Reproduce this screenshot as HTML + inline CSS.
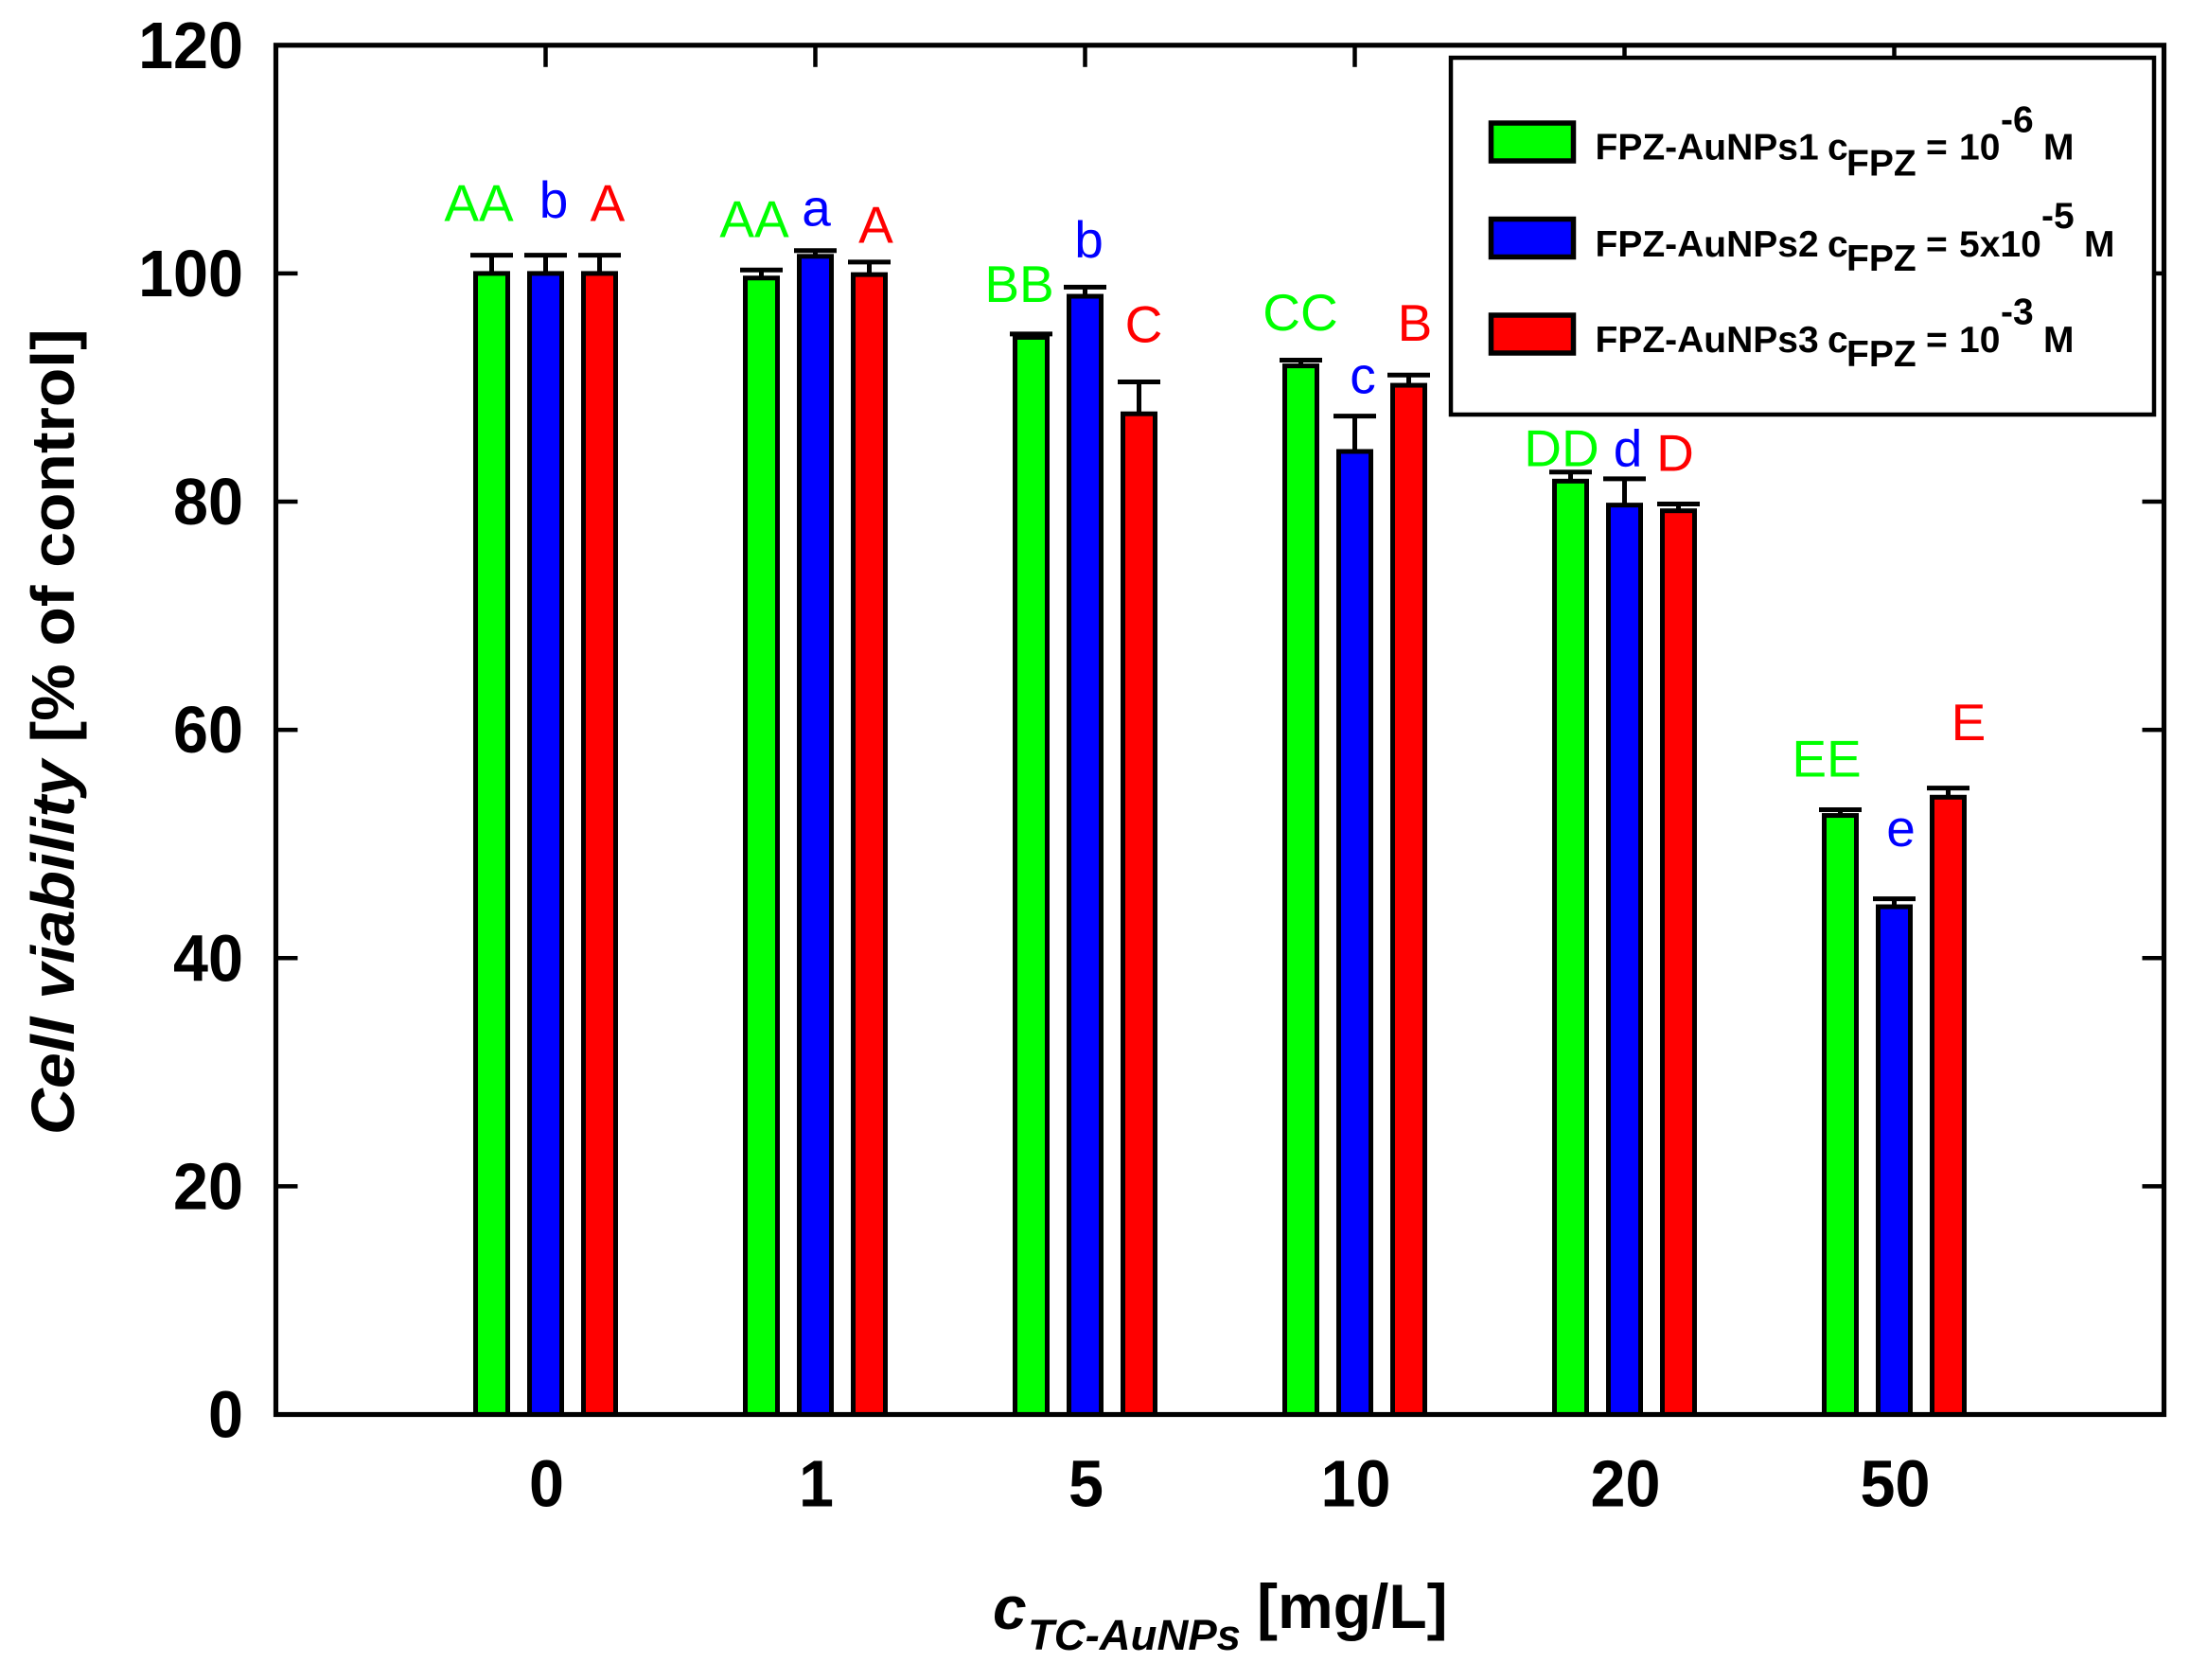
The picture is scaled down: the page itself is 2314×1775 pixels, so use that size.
<!DOCTYPE html>
<html lang="en">
<head>
<meta charset="utf-8">
<title>Cell viability bar chart</title>
<style>
html,body{margin:0;padding:0;background:#fff;}
svg{display:block;}
text{font-family:"Liberation Sans",Arial,sans-serif;}
.leg{font-size:39px;font-weight:700;fill:#000;}
.legs{font-size:39px;font-weight:700;fill:#000;}
</style>
</head>
<body>
<svg id="chart" xmlns="http://www.w3.org/2000/svg" width="2314" height="1775" viewBox="0 0 2314 1775">
  <rect x="0" y="0" width="2314" height="1775" fill="#fff"/>
  <g id="bars"></g>
  <g id="annotations"></g>
  <g id="axes"></g>

  <text transform="translate(78,1199) rotate(-90) scale(1.06,1)" font-size="64" font-weight="700" fill="#000"><tspan font-style="italic">Cell viability</tspan> [% of control]</text>

  <g font-weight="700" fill="#000">
    <text x="1049" y="1721" font-size="64" font-style="italic">c</text>
    <text x="1086" y="1743" font-size="45.5" font-style="italic">TC-AuNPs</text>
    <text x="1328" y="1720" font-size="66">[mg/L]</text>
  </g>

  <g>
    <rect x="1533" y="61" width="743" height="377" fill="#fff" stroke="#000" stroke-width="4.5"/>
    <g>
      <rect x="1575.5" y="130" width="87" height="40" fill="#00ff00" stroke="#000" stroke-width="5.5"/>
      <text class="leg" x="1685.5" y="168.5">FPZ-AuNPs1</text>
      <text class="leg" x="1931" y="168.5">c</text>
      <text class="legs" x="1951" y="185.5">FPZ</text>
      <text class="leg" x="2035" y="168.5">=</text>
      <text class="leg" x="2070" y="168.5">10</text>
      <text class="legs" x="2114" y="139.5">-6</text>
      <text class="leg" x="2159" y="168.5">M</text>
    </g>
    <g>
      <rect x="1575.5" y="231.5" width="87" height="40" fill="#0000ff" stroke="#000" stroke-width="5.5"/>
      <text class="leg" x="1685.5" y="271">FPZ-AuNPs2</text>
      <text class="leg" x="1931" y="271">c</text>
      <text class="legs" x="1951" y="286">FPZ</text>
      <text class="leg" x="2035" y="271">=</text>
      <text class="leg" x="2070" y="271">5x10</text>
      <text class="legs" x="2157" y="241">-5</text>
      <text class="leg" x="2202" y="271">M</text>
    </g>
    <g>
      <rect x="1575.5" y="333" width="87" height="40" fill="#ff0000" stroke="#000" stroke-width="5.5"/>
      <text class="leg" x="1685.5" y="372">FPZ-AuNPs3</text>
      <text class="leg" x="1931" y="372">c</text>
      <text class="legs" x="1951" y="387">FPZ</text>
      <text class="leg" x="2035" y="372">=</text>
      <text class="leg" x="2070" y="372">10</text>
      <text class="legs" x="2114" y="342.5">-3</text>
      <text class="leg" x="2159" y="372">M</text>
    </g>
  </g>
</svg>
<script>
const categories = ["0", "1", "5", "10", "20", "50"];
const yTicks = [0, 20, 40, 60, 80, 100, 120];

const greenValues = [100, 99.6, 94.4, 91.9, 81.8, 52.5];
const blueValues  = [100, 101.5, 98.0, 84.4, 79.7, 44.5];
const redValues   = [100, 99.9, 87.7, 90.2, 79.2, 54.1];

const greenErrors = [1.6, 0.7, 0.3, 0.5, 0.8, 0.5];
const blueErrors  = [1.6, 0.5, 0.8, 3.1, 2.3, 0.7];
const redErrors   = [1.6, 1.1, 2.8, 0.9, 0.6, 0.8];

const greenLetters = ["AA", "AA", "BB", "CC", "DD", "EE"];
const blueLetters  = ["b", "a", "b", "c", "d", "e"];
const redLetters   = ["A", "A", "C", "B", "D", "E"];

const SVGNS = "http://www.w3.org/2000/svg";
const plotLeft = 291.5, plotRight = 2286.5, plotTop = 47.8, plotBottom = 1494.5;
function yScale(v) { return plotBottom - (v / 120) * (plotBottom - plotTop); }
function xScale(i) { return plotLeft + (i + 1) * (plotRight - plotLeft) / 7; }

const series = [
  { key: "green", fill: "#00ff00", text: "#00ff00", dx: -57, values: greenValues, errors: greenErrors, letters: greenLetters,
    labelDx: [-70.5, -64.5, -69.5, -57.5, -66.5, -71.5], labelGap: [3.0, 2.9, 2.8, 2.6, 0.5, 2.9] },
  { key: "blue", fill: "#0000ff", text: "#0000ff", dx: 0, values: blueValues, errors: blueErrors, letters: blueLetters,
    labelDx: [8.5, 1, 4, 8.5, 3.5, 7], labelGap: [3.3, 2.2, 2.6, 2.0, 1.1, 4.6] },
  { key: "red", fill: "#ff0000", text: "#ff0000", dx: 57, values: redValues, errors: redErrors, letters: redLetters,
    labelDx: [65.5, 64, 62, 63.5, 53.5, 78.5], labelGap: [3.0, 1.7, 3.5, 3.0, 2.9, 4.2] }
];

function line(x1, y1, x2, y2, w) {
  const l = document.createElementNS(SVGNS, "line");
  l.setAttribute("x1", x1);
  l.setAttribute("y1", y1);
  l.setAttribute("x2", x2);
  l.setAttribute("y2", y2);
  l.setAttribute("stroke", "#000");
  l.setAttribute("stroke-width", w);
  return l;
}

const barsG = document.getElementById("bars");
const annG = document.getElementById("annotations");
const axesG = document.getElementById("axes");
const barW = 34;

series.forEach(function (s) {
  categories.forEach(function (cat, i) {
    const cx = xScale(i) + s.dx;
    const top = yScale(s.values[i]);
    const capY = yScale(s.values[i] + s.errors[i]);

    const stem = line(cx, top, cx, capY, 5);
    
    
    barsG.appendChild(stem);

    const cap = line(cx - 22.5, capY, cx + 22.5, capY, 5);
    
    
    barsG.appendChild(cap);

    const r = document.createElementNS(SVGNS, "rect");
    r.setAttribute("x", cx - barW / 2);
    r.setAttribute("y", top);
    r.setAttribute("width", barW);
    r.setAttribute("height", yScale(0) - top);
    r.setAttribute("fill", s.fill);
    r.setAttribute("stroke", "#000");
    r.setAttribute("stroke-width", 5);
    
    
    barsG.appendChild(r);

    const t = document.createElementNS(SVGNS, "text");
    t.setAttribute("x", xScale(i) + s.labelDx[i]);
    t.setAttribute("y", yScale(s.values[i] + s.errors[i] + s.labelGap[i]));
    t.setAttribute("text-anchor", "middle");
    t.setAttribute("font-size", "55");
    t.setAttribute("fill", s.text);
    t.textContent = s.letters[i];
    
    
    annG.appendChild(t);
  });
});

const frame = document.createElementNS(SVGNS, "rect");
frame.setAttribute("x", plotLeft);
frame.setAttribute("y", plotTop);
frame.setAttribute("width", plotRight - plotLeft);
frame.setAttribute("height", plotBottom - plotTop);
frame.setAttribute("fill", "none");
frame.setAttribute("stroke", "#000");
frame.setAttribute("stroke-width", 5.2);


axesG.appendChild(frame);

yTicks.forEach(function (v) {
  const y = yScale(v);
  if (v > 0 && v < 120) {
    const tl = line(plotLeft, y, plotLeft + 23, y, 4.5);
    
    
    axesG.appendChild(tl);
    const tr = line(plotRight - 23, y, plotRight, y, 4.5);
    
    
    axesG.appendChild(tr);
  }
  const lab = document.createElementNS(SVGNS, "text");
  lab.setAttribute("transform", "translate(257," + (y + 24) + ") scale(1,1.04)");
  lab.setAttribute("text-anchor", "end");
  lab.setAttribute("font-size", "66.5");
  lab.setAttribute("font-weight", "700");
  lab.setAttribute("fill", "#000");
  lab.textContent = String(v);
  
  
  axesG.appendChild(lab);
});

categories.forEach(function (cat, i) {
  const x = xScale(i);
  const tt = line(x, plotTop, x, plotTop + 23, 4.5);
  
  
  axesG.appendChild(tt);
  const lab = document.createElementNS(SVGNS, "text");
  lab.setAttribute("transform", "translate(" + (x + 1) + ",1591.5) scale(1,1.04)");
  lab.setAttribute("text-anchor", "middle");
  lab.setAttribute("font-size", "66.5");
  lab.setAttribute("font-weight", "700");
  lab.setAttribute("fill", "#000");
  lab.textContent = cat;
  
  
  axesG.appendChild(lab);
});
</script>
</body>
</html>
